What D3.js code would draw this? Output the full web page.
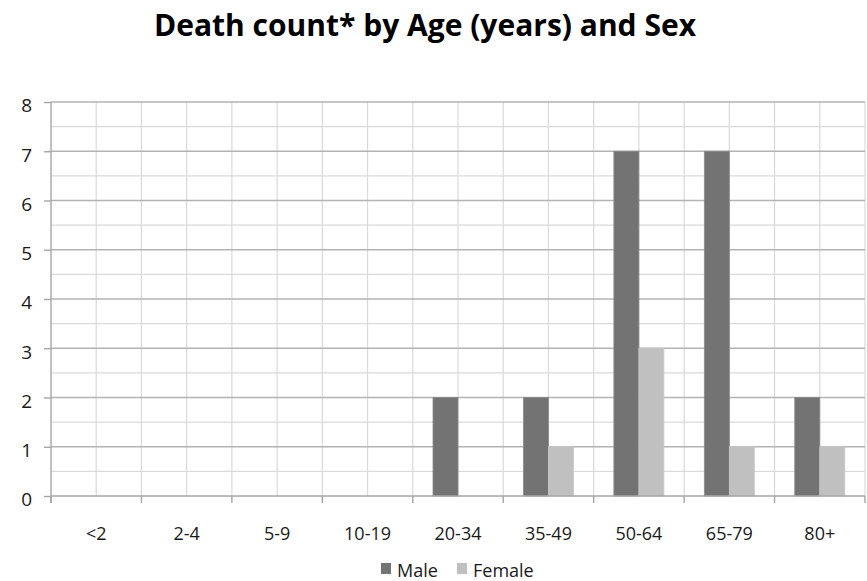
<!DOCTYPE html>
<html><head><meta charset="utf-8">
<script src="https://cdn.jsdelivr.net/npm/d3@7"></script>
<style>body{margin:0;background:#fff}svg{display:block}</style>
</head><body>
<svg id="c" width="867" height="581"></svg>
<script>
const categories = ["<2","2-4","5-9","10-19","20-34","35-49","50-64","65-79","80+"];
const male = [0,0,0,0,2,2,7,7,2];
const female = [0,0,0,0,0,1,3,1,1];
const seriesNames = ["Male","Female"];
const yTicks = [0,1,2,3,4,5,6,7,8];
const title = "Death count* by Age (years) and Sex";

const svg = d3.select("#c");
const font = "'Open Sans', sans-serif";
const W = 867, H = 581;
const m = {left:51, right:2, top:102, bottom:85};
const x = d3.scaleBand().domain(categories).range([m.left, W - m.right]).paddingInner(0).paddingOuter(0);
const y = d3.scaleLinear().domain([0,8]).range([H - m.bottom, m.top]);
const colors = {Male:"#737373", Female:"#c0c0c0"};

// vertical grid lines (band boundaries and centers)
const g = svg.append("g");
const vlines = [];
categories.forEach(c => { vlines.push(x(c) + x.bandwidth()/2); vlines.push(x(c) + x.bandwidth()); });
g.selectAll("line.v").data(vlines).join("line")
  .attr("x1", d=>d).attr("x2", d=>d).attr("y1", y(8)).attr("y2", y(0))
  .attr("stroke", "#dadada").attr("stroke-width", 1.2);
// minor horizontal
const halves = d3.range(0.5, 8, 1);
g.selectAll("line.hm").data(halves).join("line")
  .attr("x1", m.left).attr("x2", W - m.right).attr("y1", d=>y(d)).attr("y2", d=>y(d))
  .attr("stroke", "#dadada").attr("stroke-width", 1.2);
// major horizontal
g.selectAll("line.h").data(yTicks.filter(d=>d>0)).join("line")
  .attr("x1", m.left).attr("x2", W - m.right).attr("y1", d=>y(d)).attr("y2", d=>y(d))
  .attr("stroke", "#b3b3b3").attr("stroke-width", 1.3);

// bars
const data = categories.map((c,i)=>({c, vals:[{k:"Male",v:male[i]},{k:"Female",v:female[i]}]}));
const bw = 25;
svg.append("g").selectAll("g").data(data).join("g")
  .attr("transform", d=>`translate(${x(d.c) + x.bandwidth()/2},0)`)
  .selectAll("rect").data(d=>d.vals.filter(v=>v.v>0)).join("rect")
  .attr("x", d=> d.k==="Male" ? -bw : 0)
  .attr("width", bw)
  .attr("y", d=>y(d.v)).attr("height", d=>y(0)-y(d.v))
  .attr("fill", d=>colors[d.k])
  .attr("stroke", d=> d.k==="Male" ? "#8a8a8a" : "#c8c8c8").attr("stroke-width", 0.8);

// x axis
const xa = svg.append("g").attr("transform", `translate(0,${y(0)})`)
  .call(d3.axisBottom(x).tickSize(0));
xa.select(".domain").attr("stroke", "#a6a6a6").attr("stroke-width", 1.4).attr("d", `M${m.left},0H${W-m.right}`);
xa.selectAll("text").attr("y", 44).attr("dy", "0")
  .attr("font-family", font).attr("font-size", 18).attr("fill", "#1a1a1a");
// boundary ticks
svg.append("g").selectAll("line").data([m.left, ...categories.map(c=>x(c)+x.bandwidth())]).join("line")
  .attr("x1", d=>d).attr("x2", d=>d).attr("y1", y(0)).attr("y2", y(0)+7)
  .attr("stroke", "#a6a6a6").attr("stroke-width", 1.4);

// y axis
const ya = svg.append("g").attr("transform", `translate(${m.left},0)`)
  .call(d3.axisLeft(y).tickValues(yTicks).tickSize(7).tickPadding(12).tickFormat(d3.format("d")));
ya.select(".domain").attr("stroke", "#a6a6a6").attr("stroke-width", 1.4).attr("d", `M0,${y(8)}V${y(0)+7}`);
ya.selectAll(".tick line").attr("stroke", "#a6a6a6").attr("stroke-width", 1.4);
ya.selectAll("text").attr("dy", "0.52em")
  .attr("font-family", font).attr("font-size", 19).attr("fill", "#1a1a1a");

// title
svg.append("text").attr("x", 425).attr("y", 36).attr("text-anchor", "middle")
  .attr("font-family", font).attr("font-weight", "bold").attr("font-size", 30)
  .attr("fill", "#000").text(title);

// legend
const leg = svg.append("g");
const legX = [381, 457];
seriesNames.forEach((s,i)=>{
  leg.append("rect").attr("x", legX[i]).attr("y", 563).attr("width", 10).attr("height", 11).attr("fill", colors[s]);
  leg.append("text").attr("x", legX[i] + 16).attr("y", 577)
    .attr("font-family", font).attr("font-size", 18).attr("fill", "#1a1a1a").text(s);
});
</script>
</body></html>
